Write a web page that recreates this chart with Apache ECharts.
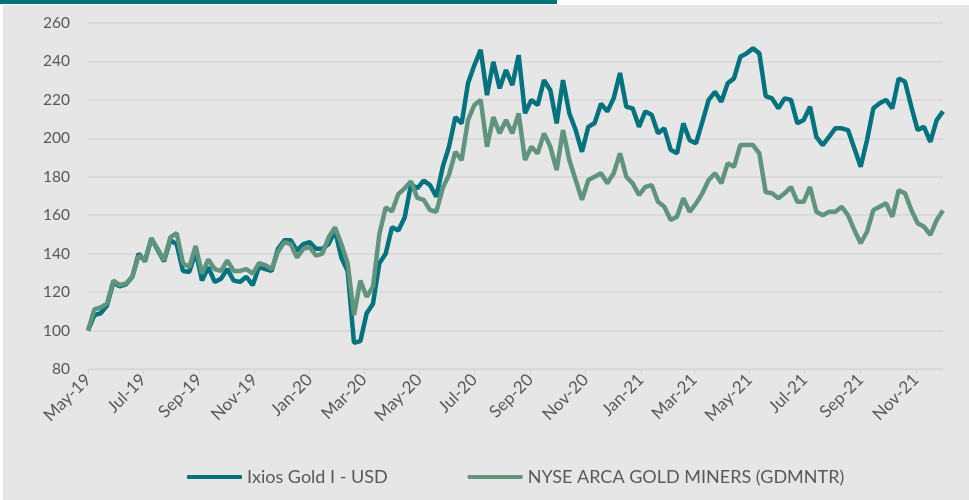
<!DOCTYPE html>
<html>
<head>
<meta charset="utf-8">
<script src="https://cdn.jsdelivr.net/npm/echarts@6/dist/echarts.min.js"></script>
<style>
  html, body { margin: 0; padding: 0; background: #fff; }
  #chart { width: 969px; height: 500px; }
</style>
</head>
<body>
<div id="chart"></div>
<script>
// weekly samples, first one at 1 May 2019
const startDate = Date.UTC(2019, 4, 1);
const weekMs = 7 * 24 * 3600 * 1000;

const ixiosGold = [
  100, 108, 109, 113, 125, 123, 124, 128, 140, 136,
  148, 142, 136, 147, 145, 131, 130.5, 141, 126, 133,
  125.3, 127, 132, 126, 125.3, 128, 123.6, 133, 132, 131,
  142.5, 147, 147, 141.6, 145, 146, 142.5, 142.5, 145, 152,
  138, 131, 93.6, 94.5, 109, 114, 135, 140, 153.7, 152,
  158.8, 176, 174, 178, 175.7, 169.6, 185, 195.6, 211, 207.8,
  228.6, 238, 246, 222.5, 239.8, 226, 235.5, 227.7, 243.3, 213,
  220, 217.3, 230.3, 225, 207.8, 230.3, 213, 204.3, 193, 206,
  208, 218, 214, 220.8, 234, 216.4, 215.6, 206, 214, 212.3,
  202.6, 205.2, 194, 192.2, 207.8, 199, 197.4, 208.6, 220, 224.2,
  219, 228.6, 231.2, 242.4, 244.2, 246.8, 244.2, 222, 220.8, 215.6,
  220.8, 220, 207.8, 209.5, 216.4, 200.8, 196.5, 200.8, 205.2, 205.2,
  204.3, 194.8, 185.2, 199, 215.6, 218.2, 220, 215.6, 231.2, 229.4,
  216.4, 204.3, 206, 198.2, 209.5, 214
];

const goldMiners = [
  100, 111, 112, 114, 126, 123.6, 124.5, 128, 139, 136.5,
  147.6, 142.5, 136.5, 148.5, 150.7, 135, 133, 144, 129.6, 137,
  132, 131, 136.5, 131, 131, 132, 129.6, 135, 134, 132,
  141, 146, 145, 138, 142.5, 143.4, 139, 140, 148.5, 153.7,
  145, 135, 108, 126, 117.6, 122.8, 150, 164, 162, 171,
  174, 177.7, 169, 168, 162.7, 161.8, 174, 181, 193, 188.7,
  209.5, 217.3, 220, 195.6, 211, 202.6, 209.5, 202.6, 213, 188.7,
  195.6, 192.2, 202.6, 195.6, 183.5, 204.3, 188.7, 178.3, 168, 178.3,
  180, 181.8, 176.6, 181.8, 192.2, 180, 176.6, 170.5, 174.7, 175.7,
  167, 164.4, 157.5, 159.2, 168.8, 161.8, 166, 171.4, 178.3, 181.8,
  176.6, 187, 185.2, 196.5, 196.5, 196.5, 192.2, 172, 171.4, 168.8,
  171.4, 174.7, 167, 167, 174.7, 161.8, 160, 161.8, 161.8, 164.4,
  160, 152.3, 145.4, 151.4, 162.7, 164.4, 166.2, 159.2, 173, 171.4,
  162.7, 155.8, 154, 149.8, 157.5, 162.5
];

// tick labels every two months
const tickMonths = [
  [2019, 4], [2019, 6], [2019, 8], [2019, 10],
  [2020, 0], [2020, 2], [2020, 4], [2020, 6], [2020, 8], [2020, 10],
  [2021, 0], [2021, 2], [2021, 4], [2021, 6], [2021, 8], [2021, 10]
];
const monthNames = ['Jan','Feb','Mar','Apr','May','Jun','Jul','Aug','Sep','Oct','Nov','Dec'];

const tickValues = tickMonths.map(m => Date.UTC(m[0], m[1], 1));
const dates = ixiosGold.map((v, i) => startDate + i * weekMs);

const chart = echarts.init(document.getElementById('chart'));

const option = {
  backgroundColor: '#ffffff',
  animation: false,
  textStyle: { fontFamily: 'Lato' },
  graphic: [
    { type: 'rect', z: -10, shape: { x: 3, y: 5, width: 966, height: 495 }, style: { fill: '#e6e6e6' } },
    { type: 'rect', z: -9, shape: { x: 0, y: 0, width: 557, height: 4 }, style: { fill: '#00737f' } }
  ],
  grid: { left: 88, right: 26, top: 23, bottom: 131 },
  legend: {
    bottom: 9,
    left: 182,
    itemWidth: 55,
    itemHeight: 4,
    itemGap: 80,
    icon: 'roundRect',
    textStyle: { color: '#595959', fontSize: 18, fontFamily: 'Lato' },
    data: ['Ixios Gold I - USD', 'NYSE ARCA GOLD MINERS (GDMNTR)']
  },
  xAxis: {
    type: 'value',
    min: startDate,
    max: dates[dates.length - 1],
    splitLine: { show: false },
    axisLine: { lineStyle: { color: '#d4d4d4', width: 1 } },
    axisTick: { show: true, customValues: tickValues, length: 5, lineStyle: { color: '#d4d4d4' } },
    axisLabel: {
      customValues: tickValues,
      rotate: 45,
      color: '#595959',
      fontSize: 17,
      margin: 8,
      formatter: function (val) {
        const d = new Date(val);
        return monthNames[d.getUTCMonth()] + '-' + String(d.getUTCFullYear()).slice(2);
      }
    }
  },
  yAxis: {
    type: 'value',
    min: 80,
    max: 260,
    interval: 20,
    axisLine: { show: false },
    axisTick: { show: false },
    splitLine: { lineStyle: { color: '#d6d6d6', width: 1.5 } },
    axisLabel: { color: '#595959', fontSize: 15.5, margin: 18 }
  },
  series: [
    {
      name: 'Ixios Gold I - USD',
      type: 'line',
      showSymbol: false,
      lineStyle: { color: '#00737f', width: 4.5 },
      itemStyle: { color: '#00737f' },
      data: dates.map((d, i) => [d, ixiosGold[i]])
    },
    {
      name: 'NYSE ARCA GOLD MINERS (GDMNTR)',
      type: 'line',
      showSymbol: false,
      lineStyle: { color: '#5f947d', width: 4.5 },
      itemStyle: { color: '#5f947d' },
      data: dates.map((d, i) => [d, goldMiners[i]])
    }
  ]
};

chart.setOption(option);
</script>
</body>
</html>
